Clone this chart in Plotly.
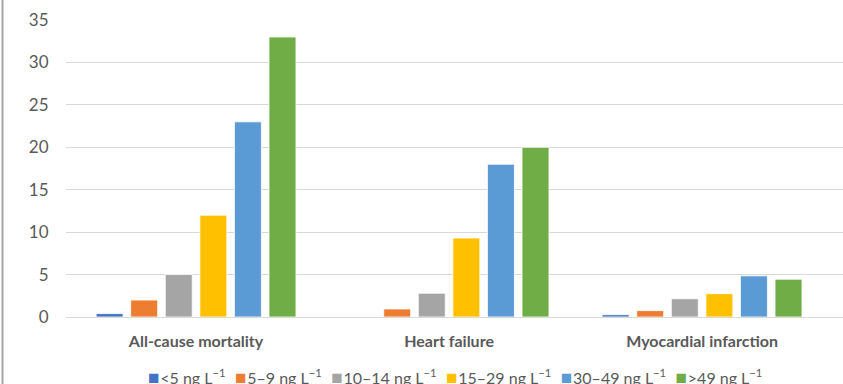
import plotly.graph_objects as go

# Outcome categories and hs-cTnT concentration groups
outcomes = ["All-cause mortality", "Heart failure", "Myocardial infarction"]
groups = [
    "&lt;5 ng L<sup>−1</sup>",
    "5–9 ng L<sup>−1</sup>",
    "10–14 ng L<sup>−1</sup>",
    "15–29 ng L<sup>−1</sup>",
    "30–49 ng L<sup>−1</sup>",
    "&gt;49 ng L<sup>−1</sup>",
]
colors = ["#4472C4", "#ED7D31", "#A5A5A5", "#FFC000", "#5B9BD5", "#70AD47"]

# Event rates per group, one list per outcome-ordered series
lt5 = [0.4, 0.0, 0.27]
g5_9 = [2.0, 0.95, 0.75]
g10_14 = [5.0, 2.8, 2.15]
g15_29 = [12.0, 9.3, 2.75]
g30_49 = [23.0, 18.0, 4.85]
gt49 = [33.0, 20.0, 4.45]
series = [lt5, g5_9, g10_14, g15_29, g30_49, gt49]

y_ticks = [0, 5, 10, 15, 20, 25, 30, 35]

fig = go.Figure()
for name, vals, col in zip(groups, series, colors):
    fig.add_trace(go.Bar(
        x=outcomes, y=vals, name=name, showlegend=False,
        marker=dict(color=col, line=dict(color="rgba(255,255,255,0.8)", width=1)),
    ))

W, H = 843, 384
ml, mr, mt, mb = 66, 0, 20, 67
plot_h = H - mt - mb

# Compact single-line key below the axis: coloured square followed by label
key_text = "  <span style='font-size:5px'> </span>".join(
    f"<span style='color:{c};font-size:19px'>■</span><span style='font-size:3px'> </span>{g}"
    for g, c in zip(groups, colors)
)

fig.update_layout(
    width=W, height=H,
    margin=dict(l=ml, r=mr, t=mt, b=mb, autoexpand=False),
    paper_bgcolor="white", plot_bgcolor="white",
    barmode="group", bargap=0.18, bargroupgap=0.22,
    font=dict(family="Lato, 'Open Sans', sans-serif", color="#595959"),
    showlegend=False,
    annotations=[dict(
        text=key_text, xref="paper", yref="paper",
        x=0.5, xanchor="center", y=-(376 - (H - mb)) / plot_h, yanchor="middle",
        showarrow=False, font=dict(size=16, color="#595959"),
    )],
    shapes=[dict(
        type="line", xref="paper", yref="paper",
        x0=(2.5 - ml) / (W - ml - mr), x1=(2.5 - ml) / (W - ml - mr),
        y0=-mb / plot_h, y1=1 + mt / plot_h,
        line=dict(color="#a6a6a6", width=2),
    )],
)
fig.update_xaxes(
    type="category", range=[-0.514, 2.557],
    showgrid=False, showline=True, linecolor="#d9d9d9", linewidth=1,
    ticks="outside", ticklen=10, tickcolor="rgba(0,0,0,0)",
    tickfont=dict(size=16, color="#595959", weight=700),
)
fig.update_yaxes(
    range=[0, 35], tickvals=y_ticks,
    showgrid=True, gridcolor="#d9d9d9", gridwidth=1,
    zeroline=False, showline=False,
    ticks="outside", ticklen=13, tickcolor="rgba(0,0,0,0)",
    tickfont=dict(size=17, color="#595959"),
)

fig.write_html("out.html")
